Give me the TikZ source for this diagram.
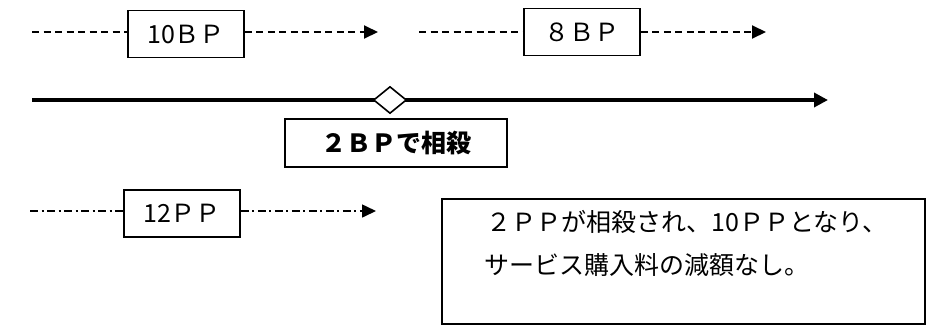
\documentclass[tikz,border=0pt]{standalone}
\usepackage{fontspec}
\setmainfont{Noto Sans CJK JP}
\usetikzlibrary{arrows.meta,positioning,shapes.geometric}

\tikzset{
  pbox/.style={draw, line width=1.8pt, minimum width=116pt, minimum height=47pt, inner sep=0pt},
  dashline/.style={line width=2pt, dash pattern=on 7pt off 4.5pt, -{Triangle[length=14pt,width=13pt]}},
  dotline/.style={line width=1.6pt, dash pattern=on 8pt off 3.5pt on 2pt off 3.5pt, -{Triangle[length=14pt,width=13pt]}},
  mainline/.style={line width=4pt, -{Triangle[length=14pt,width=14pt]}}
}

\begin{document}
\begin{tikzpicture}[x=1pt,y=-1pt,font=\fontsize{25}{40}\selectfont]
  \useasboundingbox (0,0) rectangle (926,325);

  % Top left: 10BP
  \coordinate (s1) at (32,32);
  \node[pbox] (bp10) at (186,34) {10ＢＰ};
  \coordinate (e1) at (378,32);
  \draw[dashline, -] (s1) -- (s1 -| bp10.west);
  \draw[dashline] (bp10.east |- e1) -- (e1);

  % Top right: 8BP
  \coordinate (s2) at (419,32);
  \node[pbox] (bp8) at (582,32) {８ＢＰ};
  \coordinate (e2) at (766,32);
  \draw[dashline, -] (s2) -- (s2 -| bp8.west);
  \draw[dashline] (bp8.east |- e2) -- (e2);

  % Main timeline with offset point
  \coordinate (m0) at (32,100);
  \coordinate (m1) at (828,100);
  \draw[mainline] (m0) -- (m1);
  \node[draw, line width=1.6pt, fill=white, diamond, shape aspect=1.25,
        minimum width=33pt, minimum height=27pt, inner sep=0pt] (off) at (390,100) {};

  % Offset label
  \node[pbox, minimum width=222pt, minimum height=48pt, font=\fontsize{25}{40}\selectfont\bfseries] (net) at (396,143) {２ＢＰで相殺};

  % Bottom left: 12PP
  \coordinate (s3) at (30,211);
  \node[pbox] (pp12) at (182,213.5) {12ＰＰ};
  \coordinate (e3) at (376,211);
  \draw[dotline, -] (s3) -- (s3 -| pp12.west);
  \draw[dotline] (pp12.east |- e3) -- (e3);

  % Result note
  \node[draw, line width=1.8pt, anchor=north west, minimum width=483pt, minimum height=125pt] (note) at (441,198) {};
  \node[anchor=west, inner sep=0pt] (noteA) at (486,222) {２ＰＰが相殺され、10ＰＰとなり、};
  \node[anchor=west, inner sep=0pt] (noteB) at (484,265) {サービス購入料の減額なし。};
\end{tikzpicture}
\end{document}
